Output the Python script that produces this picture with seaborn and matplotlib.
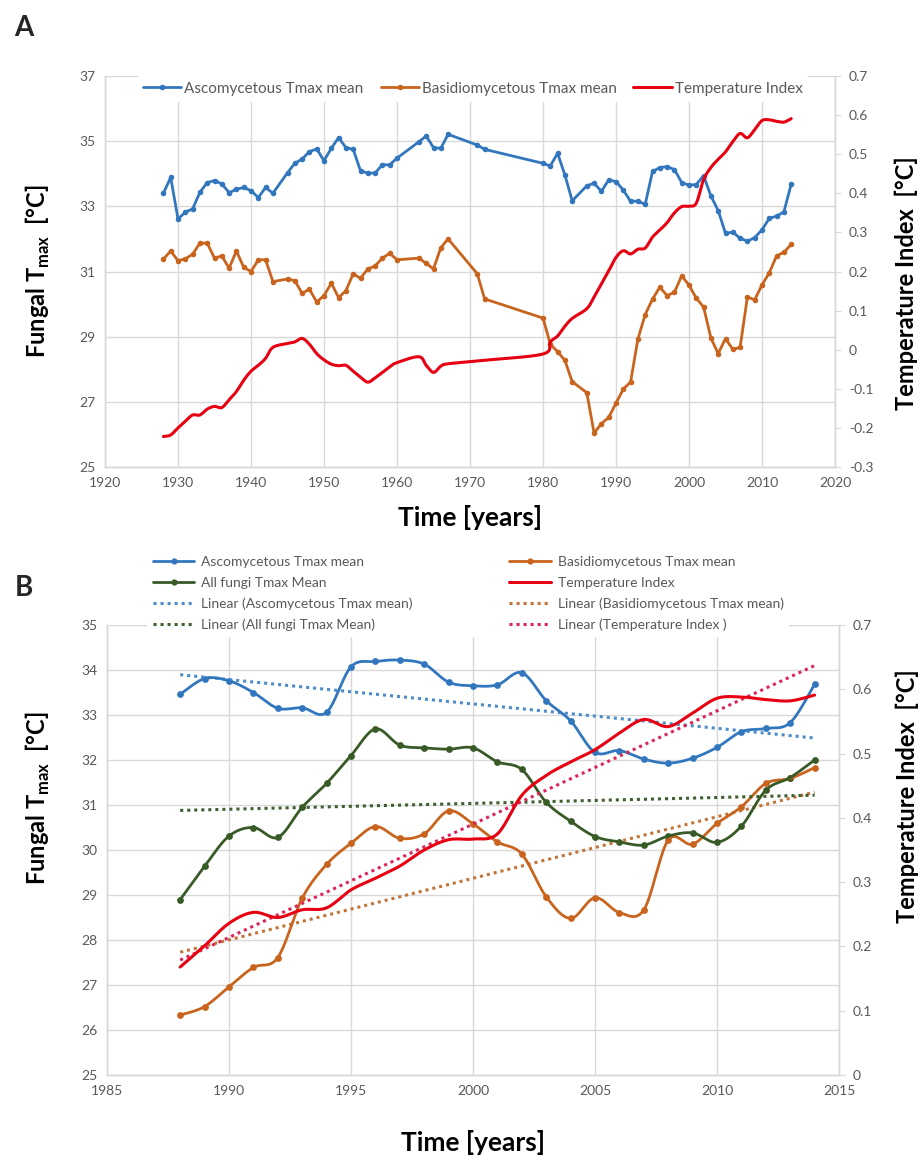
import numpy as np
import matplotlib
matplotlib.use("Agg")
import matplotlib.pyplot as plt
import seaborn as sns
from matplotlib.lines import Line2D
from matplotlib.ticker import FuncFormatter

# ---------------- data ----------------
# Panel A: yearly means 1928-1987 (years without records are skipped)
years_early = [1928, 1929, 1930, 1931, 1932, 1933, 1934, 1935, 1936, 1937, 1938, 1939,
               1940, 1941, 1942, 1943, 1945, 1946, 1947, 1948, 1949, 1950, 1951, 1952,
               1953, 1954, 1955, 1956, 1957, 1958, 1959, 1960, 1963, 1964, 1965, 1966,
               1967, 1971, 1972, 1980, 1981, 1982, 1983, 1984, 1986, 1987]
asco_early = [33.40, 33.89, 32.61, 32.82, 32.92, 33.43, 33.73, 33.79, 33.69, 33.42, 33.52, 33.58,
              33.48, 33.27, 33.58, 33.40, 34.03, 34.32, 34.45, 34.68, 34.76, 34.40, 34.78, 35.11,
              34.80, 34.75, 34.09, 34.02, 34.02, 34.28, 34.27, 34.48, 34.98, 35.16, 34.80, 34.78,
              35.21, 34.88, 34.75, 34.32, 34.24, 34.63, 33.96, 33.17, 33.63, 33.71]
basidio_early = [31.38, 31.63, 31.33, 31.39, 31.53, 31.87, 31.87, 31.41, 31.48, 31.10, 31.63, 31.13,
                 31.00, 31.36, 31.36, 30.69, 30.77, 30.72, 30.33, 30.46, 30.06, 30.26, 30.64, 30.20,
                 30.41, 30.93, 30.79, 31.08, 31.17, 31.41, 31.56, 31.36, 31.41, 31.25, 31.08, 31.73,
                 32.00, 30.93, 30.16, 29.57, 28.77, 28.54, 28.27, 27.62, 27.28, 26.04]
temp_early = [-0.222, -0.218, -0.200, -0.183, -0.167, -0.167, -0.152, -0.145, -0.148, -0.128, -0.107, -0.078,
              -0.055, -0.040, -0.022, 0.006, 0.016, 0.020, 0.029, 0.014, -0.010, -0.026, -0.037, -0.041,
              -0.040, -0.055, -0.070, -0.083, -0.072, -0.058, -0.044, -0.033, -0.018, -0.040, -0.058, -0.042,
              -0.036, -0.029, -0.027, -0.011, 0.020, 0.035, 0.060, 0.080, 0.105, 0.135]

# 1988-2014 (shared by both panels)
years_recent = [1988, 1989, 1990, 1991, 1992, 1993, 1994, 1995, 1996, 1997, 1998, 1999, 2000,
                2001, 2002, 2003, 2004, 2005, 2006, 2007, 2008, 2009, 2010, 2011, 2012, 2013, 2014]
asco_recent = [33.46, 33.81, 33.76, 33.50, 33.15, 33.16, 33.06, 34.07, 34.19, 34.22, 34.13, 33.73, 33.65,
               33.67, 33.94, 33.32, 32.87, 32.17, 32.21, 32.02, 31.93, 32.04, 32.28, 32.63, 32.70, 32.83, 33.68]
basidio_recent = [26.33, 26.52, 26.96, 27.39, 27.61, 28.93, 29.68, 30.15, 30.52, 30.26, 30.36, 30.87, 30.58,
                  30.18, 29.91, 28.96, 28.48, 28.94, 28.61, 28.67, 30.22, 30.13, 30.59, 30.96, 31.48, 31.59, 31.83]
allfungi_recent = [28.90, 29.64, 30.31, 30.50, 30.28, 30.95, 31.48, 32.10, 32.69, 32.33, 32.27, 32.24, 32.27,
                   31.96, 31.79, 31.06, 30.64, 30.30, 30.18, 30.11, 30.31, 30.38, 30.17, 30.53, 31.33, 31.61, 32.00]
temp_recent = [0.168, 0.201, 0.236, 0.253, 0.245, 0.257, 0.260, 0.288, 0.306, 0.325, 0.350, 0.366, 0.367,
               0.375, 0.435, 0.466, 0.487, 0.506, 0.532, 0.553, 0.542, 0.563, 0.586, 0.588, 0.584, 0.582, 0.591]

years_a = years_early + years_recent
asco_a = asco_early + asco_recent
basidio_a = basidio_early + basidio_recent
temp_a = temp_early + temp_recent

lbl_asco = "Ascomycetous Tmax mean"
lbl_basidio = "Basidiomycetous Tmax mean"
lbl_all = "All fungi Tmax Mean"
lbl_temp = "Temperature Index"

# ---------------- style ----------------
C_BLUE = "#3277BD"
C_ORANGE = "#C8641E"
C_GREEN = "#385A27"
C_RED = "#E60012"
C_BLUE_T = "#4C8CCB"
C_ORANGE_T = "#C27538"
C_GREEN_T = "#3F5F30"
C_RED_T = "#DD2456"
GRID = "#D9D9D9"
TICK = "#595959"
DOT = (0, (1, 1.3))
TITLE_X = 19
TITLE_Y = 17

sns.set_style("white")
plt.rcParams["font.family"] = ["Lato", "DejaVu Sans"]
plt.rcParams["mathtext.fontset"] = "custom"
plt.rcParams["mathtext.rm"] = "Lato"
plt.rcParams["mathtext.bf"] = "Lato:bold"
plt.rcParams["axes.unicode_minus"] = False


def smooth(x, y, n=20):
    """Bezier smoothing through every point (tension of 1/6, like spreadsheet smoothed lines)."""
    x = np.asarray(x, float)
    y = np.asarray(y, float)
    px = np.concatenate([[x[0]], x, [x[-1]]])
    py = np.concatenate([[y[0]], y, [y[-1]]])
    t = np.linspace(0, 1, n, endpoint=False)[:, None]
    out = []
    for i in range(1, len(px) - 2):
        p0 = np.array([px[i - 1], py[i - 1]])
        p1 = np.array([px[i], py[i]])
        p2 = np.array([px[i + 1], py[i + 1]])
        p3 = np.array([px[i + 2], py[i + 2]])
        c1 = p1 + (p2 - p0) / 6
        c2 = p2 - (p3 - p1) / 6
        seg = ((1 - t) ** 3) * p1 + 3 * ((1 - t) ** 2) * t * c1 + 3 * (1 - t) * t ** 2 * c2 + t ** 3 * p2
        out.append(seg)
    out.append(np.array([[x[-1], y[-1]]]))
    pts = np.vstack(out)
    return pts[:, 0], pts[:, 1]


def style_axes(ax, ax2):
    ax.grid(True, color=GRID, lw=1)
    ax.set_axisbelow(True)
    for a in (ax, ax2):
        for s in a.spines.values():
            s.set_color(GRID)
            s.set_linewidth(1)
        a.spines["top"].set_visible(False)
    ax.tick_params(axis="both", length=0, pad=7, labelsize=10, labelcolor=TICK)
    ax2.tick_params(axis="y", length=4, color=GRID, pad=6, labelsize=10, labelcolor=TICK)
    ax2.yaxis.set_major_formatter(FuncFormatter(lambda v, _: "0" if abs(v) < 1e-9 else f"{v:.1f}"))


fig = plt.figure(figsize=(9.2, 11.68), dpi=100)

# ---------------- Panel A ----------------
axA = fig.add_axes([105 / 920, 1 - 467 / 1168, 730 / 920, 391 / 1168])
axA2 = axA.twinx()

sns.lineplot(x=years_a, y=asco_a, ax=axA, color=C_BLUE, lw=2, marker="o", markersize=4,
             markeredgewidth=0, estimator=None, sort=False)
sns.lineplot(x=years_a, y=basidio_a, ax=axA, color=C_ORANGE, lw=2, marker="o", markersize=4,
             markeredgewidth=0, estimator=None, sort=False)
sx, sy = smooth(years_a, temp_a)
sns.lineplot(x=sx, y=sy, ax=axA2, color=C_RED, lw=2.2, estimator=None, sort=False)

axA.set_xlim(1920, 2020)
axA.set_ylim(25, 37)
axA2.set_ylim(-0.3, 0.7)
axA.set_xticks(np.arange(1920, 2021, 10))
axA.set_yticks(np.arange(25, 38, 2))
axA2.set_yticks(np.round(np.arange(-0.3, 0.71, 0.1), 1))
style_axes(axA, axA2)

axA.set_xlabel("Time [years]", fontsize=TITLE_X, fontweight="bold", color="black")
axA.xaxis.set_label_coords(0.5, -0.097)
axA.set_ylabel(r"Fungal T$_{\mathbf{max}}$  [°C]", fontsize=TITLE_Y, fontweight="bold", color="black")
axA.yaxis.set_label_coords(-0.073, 0.5)
axA2.set_ylabel("Temperature Index  [°C]", fontsize=TITLE_Y, fontweight="bold", color="black")
axA2.yaxis.set_label_coords(1.082, 0.47)

hA = [Line2D([], [], color=C_BLUE, lw=2, marker="o", markersize=4, markeredgewidth=0),
      Line2D([], [], color=C_ORANGE, lw=2, marker="o", markersize=4, markeredgewidth=0),
      Line2D([], [], color=C_RED, lw=2.2)]
legA = axA2.legend(hA, [lbl_asco, lbl_basidio, lbl_temp], loc="center",
                   bbox_to_anchor=(0.044, 0.925, 0.92, 0.085), mode="expand", ncol=3,
                   frameon=True, facecolor="white", edgecolor="none", framealpha=1,
                   fontsize=11, handlelength=2.5, handletextpad=0.2, borderaxespad=0,
                   labelcolor=TICK)
legA.set_zorder(10)

# ---------------- Panel B ----------------
axB = fig.add_axes([107 / 920, 1 - 1075 / 1168, 732 / 920, 450 / 1168])
axB2 = axB.twinx()

for vals, col, tcol in [(asco_recent, C_BLUE, C_BLUE_T),
                        (basidio_recent, C_ORANGE, C_ORANGE_T),
                        (allfungi_recent, C_GREEN, C_GREEN_T)]:
    sns.regplot(x=np.array(years_recent), y=np.array(vals), ax=axB, scatter=False, ci=None,
                truncate=True, line_kws=dict(color=tcol, lw=2.2, ls=DOT))
    bx, by = smooth(years_recent, vals)
    sns.lineplot(x=bx, y=by, ax=axB, color=col, lw=2, estimator=None, sort=False)
    sns.scatterplot(x=years_recent, y=vals, ax=axB, color=col, s=24, linewidth=0)

sns.regplot(x=np.array(years_recent), y=np.array(temp_recent), ax=axB2, scatter=False, ci=None,
            truncate=True, line_kws=dict(color=C_RED_T, lw=2.2, ls=DOT))
tx, ty = smooth(years_recent, temp_recent)
sns.lineplot(x=tx, y=ty, ax=axB2, color=C_RED, lw=2.2, estimator=None, sort=False)

axB.set_xlim(1985, 2015)
axB.set_ylim(25, 35)
axB2.set_ylim(0, 0.7)
axB.set_xticks(np.arange(1985, 2016, 5))
axB.set_yticks(np.arange(25, 36, 1))
axB2.set_yticks(np.round(np.arange(0, 0.71, 0.1), 1))
style_axes(axB, axB2)

axB.set_xlabel("Time [years]", fontsize=TITLE_X, fontweight="bold", color="black")
axB.xaxis.set_label_coords(0.5, -0.122)
axB.set_ylabel(r"Fungal T$_{\mathbf{max}}$  [°C]", fontsize=TITLE_Y, fontweight="bold", color="black")
axB.yaxis.set_label_coords(-0.075, 0.615)
axB2.set_ylabel("Temperature Index  [°C]", fontsize=TITLE_Y, fontweight="bold", color="black")
axB2.yaxis.set_label_coords(1.078, 0.62)

hB = [Line2D([], [], color=C_BLUE, lw=2, marker="o", markersize=4.5, markeredgewidth=0),
      Line2D([], [], color=C_GREEN, lw=2, marker="o", markersize=4.5, markeredgewidth=0),
      Line2D([], [], color=C_BLUE_T, lw=2.2, ls=DOT),
      Line2D([], [], color=C_GREEN_T, lw=2.2, ls=DOT),
      Line2D([], [], color=C_ORANGE, lw=2, marker="o", markersize=4.5, markeredgewidth=0),
      Line2D([], [], color=C_RED, lw=2.2),
      Line2D([], [], color=C_ORANGE_T, lw=2.2, ls=DOT),
      Line2D([], [], color=C_RED_T, lw=2.2, ls=DOT)]
lB = [lbl_asco, lbl_all, f"Linear ({lbl_asco})", f"Linear ({lbl_all})",
      lbl_basidio, lbl_temp, f"Linear ({lbl_basidio})", f"Linear ({lbl_temp} )"]
legB = axB2.legend(hB, lB, loc="center", bbox_to_anchor=(0.055, 0.964, 0.877, 0.211),
                   mode="expand", ncol=2, frameon=True, facecolor="white", edgecolor="none",
                   framealpha=1, fontsize=10, handlelength=3.0, handletextpad=0.5,
                   labelspacing=0.62, borderaxespad=0, labelcolor=TICK)
legB.set_zorder(10)

# panel letters
fig.text(24 / 920, 1 - 28 / 1168, "A", fontsize=20, fontweight="bold", ha="center", va="center")
fig.text(24 / 920, 1 - 588 / 1168, "B", fontsize=20, fontweight="bold", ha="center", va="center")

fig.savefig("out.png", dpi=100, facecolor="white")
